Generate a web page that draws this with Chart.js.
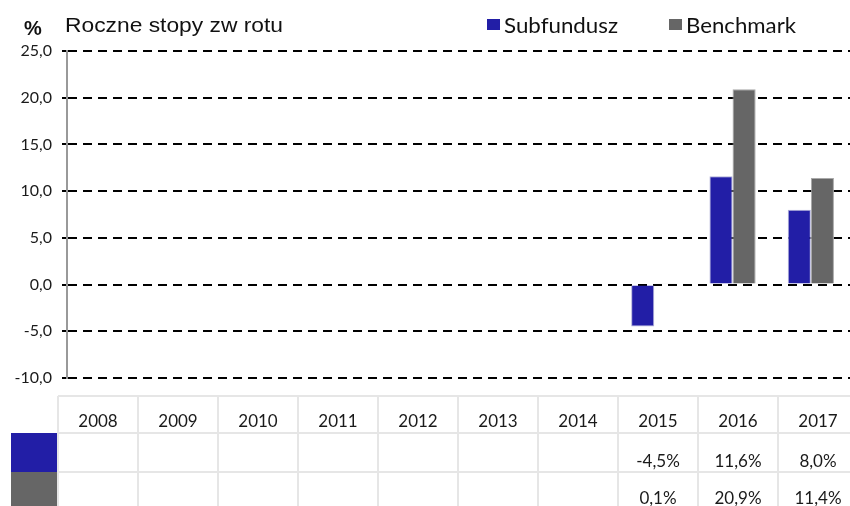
<!DOCTYPE html>
<html><head><meta charset="utf-8">
<script src="https://cdn.jsdelivr.net/npm/chart.js@4.4.1/dist/chart.umd.min.js"></script>
<style>html,body{margin:0;padding:0;background:#fff;overflow:hidden}#wrap{width:850px;height:506px;position:relative}</style>
</head><body><div id="wrap"><canvas id="c" width="850" height="506"></canvas></div>
<script>
const years = ['2008','2009','2010','2011','2012','2013','2014','2015','2016','2017'];
const subfundusz = [null,null,null,null,null,null,null,-4.5,11.6,8.0];
const benchmark = [null,null,null,null,null,null,null,0.1,20.9,11.4];
const subfunduszLabels = ['','','','','','','','-4,5%','11,6%','8,0%'];
const benchmarkLabels = ['','','','','','','','0,1%','20,9%','11,4%'];
const seriesNames = ['Subfundusz','Benchmark'];
const yMin = -10, yMax = 25, yStep = 5;
const titleUnit = '%';
const titleText = 'Roczne stopy zw rotu';

const BLUE = '#221EA6', GRAY = '#666666';
const TABLE_LEFT = 58, COL_W = 80, HEADER_TOP = 396, ROW1_TOP = 433, ROW2_TOP = 472, ROW_END = 512;

function fitText(ctx, text, x, y, width) {
  const w = ctx.measureText(text).width;
  ctx.save();
  ctx.translate(x, y);
  ctx.scale(width / w, 1);
  ctx.fillText(text, 0, 0);
  ctx.restore();
}

const decor = {
  id: 'decor',
  afterDraw(chart) {
    const ctx = chart.ctx;
    ctx.save();
    ctx.fillStyle = '#111';
    ctx.textBaseline = 'alphabetic';
    ctx.textAlign = 'left';
    ctx.font = 'bold 20px "Liberation Sans", Arial, sans-serif';
    ctx.fillText(titleUnit, 24, 35);
    ctx.font = '21px "Liberation Sans", Arial, sans-serif';
    fitText(ctx, titleText, 65, 32, 218);
    const ds = chart.data.datasets;
    const legendX = [487, 669];
    const legendW = [114, 110];
    ctx.font = '21px Lato, sans-serif';
    ds.forEach((d, i) => {
      ctx.fillStyle = d.backgroundColor;
      ctx.fillRect(legendX[i], 19, 13, 11);
      ctx.fillStyle = '#111';
      fitText(ctx, d.label, legendX[i] + 17, 33, legendW[i]);
    });
    const n = chart.data.labels.length;
    ctx.strokeStyle = '#e6e6e6';
    ctx.lineWidth = 2;
    ctx.beginPath();
    [HEADER_TOP, ROW1_TOP, ROW2_TOP].forEach(y => {
      ctx.moveTo(TABLE_LEFT, y); ctx.lineTo(TABLE_LEFT + n * COL_W, y);
    });
    for (let i = 0; i <= n; i++) {
      const x = TABLE_LEFT + i * COL_W;
      ctx.moveTo(x, HEADER_TOP); ctx.lineTo(x, ROW_END);
    }
    ctx.stroke();
    ctx.fillStyle = ds[0].backgroundColor;
    ctx.fillRect(11, ROW1_TOP, TABLE_LEFT - 12, ROW2_TOP - ROW1_TOP);
    ctx.fillStyle = ds[1].backgroundColor;
    ctx.fillRect(11, ROW2_TOP, TABLE_LEFT - 12, ROW_END - ROW2_TOP);
    ctx.fillStyle = '#1a1a1a';
    ctx.font = '17px Lato, sans-serif';
    ctx.textAlign = 'center';
    chart.data.labels.forEach((lab, i) => {
      const cx = TABLE_LEFT + (i + 0.5) * COL_W;
      ctx.fillText(lab, cx, 427);
      ctx.fillText(subfunduszLabels[i], cx, 467);
      ctx.fillText(benchmarkLabels[i], cx, 504);
    });
    ctx.restore();
  }
};

Chart.defaults.font.family = 'Lato, sans-serif';
Chart.defaults.color = '#1a1a1a';

new Chart(document.getElementById('c'), {
  type: 'bar',
  data: {
    labels: years,
    datasets: [
      { label: seriesNames[0], data: subfundusz, backgroundColor: BLUE, borderColor: '#b0b0d8', borderWidth: 1, categoryPercentage: 0.59, barPercentage: 1.0 },
      { label: seriesNames[1], data: benchmark, backgroundColor: GRAY, borderColor: '#a8a8a8', borderWidth: 1, categoryPercentage: 0.59, barPercentage: 1.0 }
    ]
  },
  options: {
    responsive: false,
    animation: false,
    devicePixelRatio: 1,
    layout: { padding: { top: 51, bottom: 128, left: 0, right: 0 } },
    plugins: { legend: { display: false }, title: { display: false }, tooltip: { enabled: false } },
    scales: {
      x: { display: false },
      y: {
        min: yMin, max: yMax,
        afterFit(scale) { scale.width = 67; },
        ticks: {
          stepSize: yStep,
          padding: 10,
          font: { size: 16 },
          color: '#1a1a1a',
          callback: v => v.toFixed(1).replace('.', ',')
        },
        grid: { color: '#000', lineWidth: 2, tickLength: 5, tickColor: '#000', tickWidth: 2 },
        border: { display: true, color: '#999', width: 2, dash: [9, 6] }
      }
    }
  },
  plugins: [decor]
});
</script></body></html>
